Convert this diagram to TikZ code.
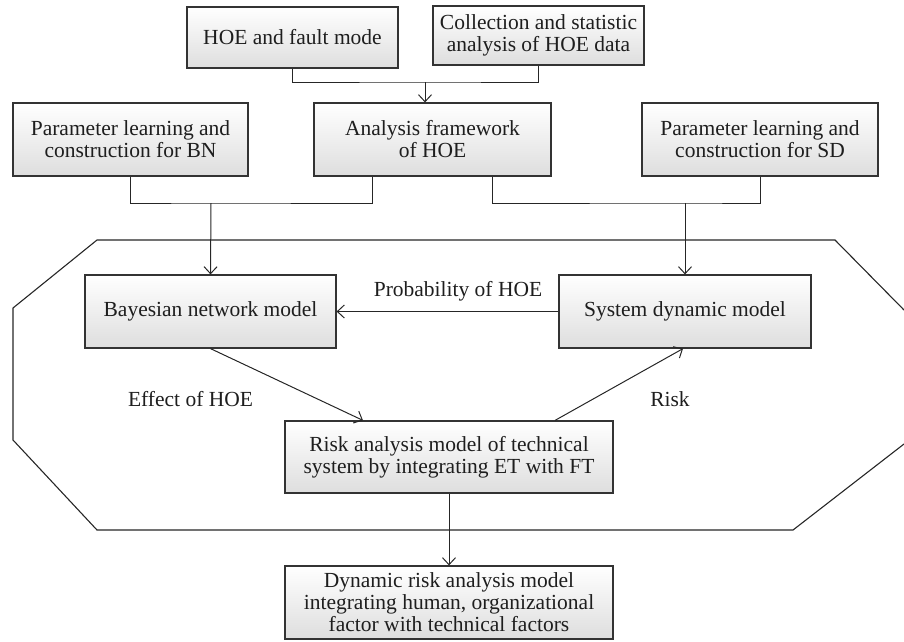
\documentclass[tikz,border=0pt]{standalone}
\usepackage{fontspec}
\setmainfont{Liberation Serif}
\usetikzlibrary{arrows.meta}
\definecolor{edgegray}{HTML}{333333}
\definecolor{txtgray}{HTML}{1E1E1E}
\tikzset{
  box/.style={draw=edgegray, line width=1.2pt, top color=white, bottom color=black!13,
    align=center, inner sep=0pt, text=txtgray,
    font=\fontsize{21.5}{22}\selectfont},
  lbl/.style={inner sep=0pt, text=txtgray, font=\fontsize{21.5}{22}\selectfont},
  conn/.style={draw=black!85, line width=1pt},
  arr/.style={conn, -{Straight Barb[length=7pt,width=13pt]}},
  octa/.style={draw=black!85, line width=1.1pt}
}
\begin{document}
\begin{tikzpicture}[x=1pt,y=-1pt]
\useasboundingbox (0,0) rectangle (904,641);
% octagon (clipped at the right border)
\draw[octa] (904,310) -- (835,240) -- (97,240) -- (13,308) -- (13,440) -- (97,530) -- (793,530) -- (904,444);
% boxes
\node[box, minimum width=211pt, minimum height=61pt] (hoe) at (292.5,37.5) {HOE and fault mode};
\node[box, minimum width=211pt, minimum height=59pt] (coll) at (538.5,35.5) {Collection and statistic\\analysis of HOE data};
\node[box, minimum width=235pt, minimum height=73pt] (pbn) at (130.5,139.5) {Parameter learning and\\construction for BN};
\node[box, minimum width=237pt, minimum height=73pt] (afw) at (432.5,139.5) {Analysis framework\\of HOE};
\node[box, minimum width=236pt, minimum height=73pt] (psd) at (760,139.5) {Parameter learning and\\construction for SD};
\node[box, minimum width=251pt, minimum height=73pt] (bay) at (210.5,311.5) {Bayesian network model};
\node[box, minimum width=252pt, minimum height=73pt] (sdm) at (685,311.5) {System dynamic model};
\node[box, minimum width=328pt, minimum height=72pt] (risk) at (449,457) {Risk analysis model of technical\\system by integrating ET with FT};
\node[box, minimum width=328pt, minimum height=73pt] (dyn) at (449,602.5) {Dynamic risk analysis model\\integrating human, organizational\\factor with technical factors};
% junctions
\coordinate (j1) at (425,82);
\coordinate (j2) at (211,203);
\coordinate (j3) at (685,203);
% connectors
\draw[conn] (hoe.south) |- (j1) -| (coll.south);
\draw[arr] (j1) -- (j1 |- afw.north);
\draw[conn] (pbn.south) |- (j2) -| ([xshift=-60.5pt]afw.south);
\draw[arr] (j2) -- (bay.north);
\draw[conn] ([xshift=59.5pt]afw.south) |- (j3) -| (psd.south);
\draw[arr] (j3) -- (sdm.north);
\draw[arr] (sdm.west) -- (bay.east);
\draw[arr] (bay.south) -- ([xshift=-86pt]risk.north);
\draw[arr] ([xshift=106pt]risk.north) -- ([xshift=-2pt]sdm.south);
\draw[arr] (risk.south) -- (dyn.north);
% labels
\node[lbl] (lprob) at (458,291) {Probability of HOE};
\node[lbl] (leff) at (190.5,399) {Effect of HOE};
\node[lbl] (lrisk) at (670,399) {Risk};
\end{tikzpicture}
\end{document}
